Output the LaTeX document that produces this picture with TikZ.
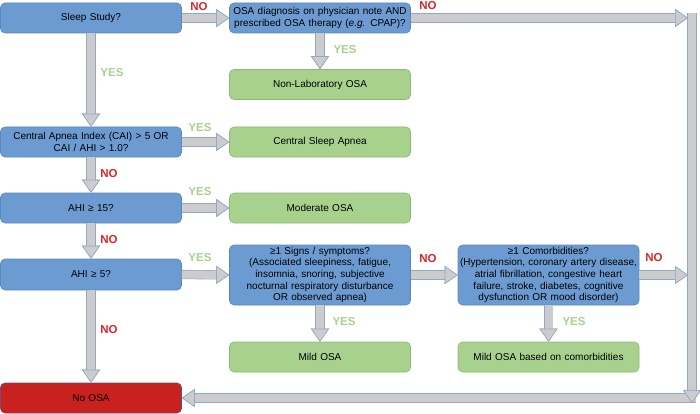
\documentclass[tikz,border=0pt]{standalone}
\usepackage{fontspec}
\setmainfont{Liberation Sans}
\usetikzlibrary{arrows.meta}
\definecolor{qfill}{HTML}{6C9BD2}
\definecolor{qline}{HTML}{5A87BE}
\definecolor{rfill}{HTML}{A9D18E}
\definecolor{rline}{HTML}{8DB87A}
\definecolor{efill}{HTML}{C9211E}
\definecolor{eline}{HTML}{6A4E7E}
\definecolor{afill}{HTML}{CCCCCC}
\definecolor{aline}{HTML}{8EA9CB}
\definecolor{nored}{HTML}{D9262B}
\definecolor{yesgreen}{HTML}{A9D18E}
\tikzset{
  basebox/.style={rounded corners=4.5pt, line width=0.6pt, minimum height=30pt,
    text width=177pt, inner xsep=2pt, inner ysep=1pt, align=center,
    font=\fontsize{10}{11.7}\selectfont},
  qbox/.style={basebox, fill=qfill, draw=qline},
  rbox/.style={basebox, fill=rfill, draw=rline},
  endbox/.style={basebox, fill=efill, draw=eline},
  flow/.style={line width=8pt, draw=afill,
    -{Triangle[width=18pt,length=13pt,line width=0.6pt,color=aline,fill=afill]},
    preaction={draw=aline, line width=9.2pt, -{Triangle[width=18pt,length=13pt,line width=0.6pt]}}},
  nolbl/.style={text=nored, font=\fontsize{11.5}{12}\selectfont\bfseries},
  yeslbl/.style={text=yesgreen, font=\fontsize{11.5}{12}\selectfont\bfseries}
}
\begin{document}
\begin{tikzpicture}[x=1pt,y=-1pt]
\useasboundingbox (0,0) rectangle (700,414);
% questions
\node[qbox] (sleep) at (91,18) {Sleep Study?};
\node[qbox] (osadx) at (320,18) {OSA diagnosis on physician note AND\\prescribed OSA therapy (\textit{e.g.} CPAP)?};
\node[qbox] (cai) at (91,142) {Central Apnea Index (CAI) > 5 OR\\CAI / AHI > 1.0?};
\node[qbox] (ahi15) at (91,208) {AHI ≥ 15?};
\node[qbox, minimum height=31pt] (ahi5) at (91,274.5) {AHI ≥ 5?};
\node[qbox, minimum height=60pt] (signs) at (320,275) {≥1 Signs / symptoms?\\(Associated sleepiness, fatigue,\\insomnia, snoring, subjective\\nocturnal respiratory disturbance\\OR observed apnea)};
\node[qbox, minimum height=60pt] (comorb) at (548.5,275) {≥1 Comorbidities?\\(Hypertension, coronary artery disease,\\atrial fibrillation, congestive heart\\failure, stroke, diabetes, cognitive\\dysfunction OR mood disorder)};
% results
\node[rbox] (nonlab) at (320,84.5) {Non-Laboratory OSA};
\node[rbox] (csa) at (320,142) {Central Sleep Apnea};
\node[rbox] (moderate) at (320,208) {Moderate OSA};
\node[rbox] (mild) at (320,357) {Mild OSA};
\node[rbox] (mildcom) at (548.5,357) {Mild OSA based on comorbidities};
\node[endbox] (noosa) at (91,398) {No OSA};
% right hand return bar
\coordinate (bartop) at (692,13.5);
\coordinate (barbot) at (692,403);
\coordinate (barin1) at (688,18);
\coordinate (barin2) at (688,275);
\coordinate (barout) at (696,398);
\draw[flow] (barout) -- (noosa.east);
\draw[flow] (bartop) -- (barbot);
\draw[flow] (osadx.east) -- (barin1);
\draw[flow] (comorb.east) -- (barin2);
% arrows
\draw[flow] (sleep.east) -- (osadx.west);
\draw[flow] (osadx.south) -- (nonlab.north);
\draw[flow] (sleep.south) -- (cai.north);
\draw[flow] (cai.east) -- (csa.west);
\draw[flow] (cai.south) -- (ahi15.north);
\draw[flow] (ahi15.east) -- (moderate.west);
\draw[flow] (ahi15.south) -- (ahi5.north);
\draw[flow] (ahi5.east) -- (signs.west);
\draw[flow] (ahi5.south) -- (noosa.north);
\draw[flow] (signs.east) -- (comorb.west);
\draw[flow] (signs.south) -- (mild.north);
\draw[flow] (comorb.south) -- (mildcom.north);
% labels
\foreach \x/\y [count=\i] in {199/7,428/6,109/174,109/240,428/259,654/258,109/330}
  \node[nolbl] (no\i) at (\x,\y) {NO};
\foreach \x/\y [count=\i] in {112/73,345/50,200/128,200/192,200/258,344/322,574/322}
  \node[yeslbl] (yes\i) at (\x,\y) {YES};
\end{tikzpicture}
\end{document}
